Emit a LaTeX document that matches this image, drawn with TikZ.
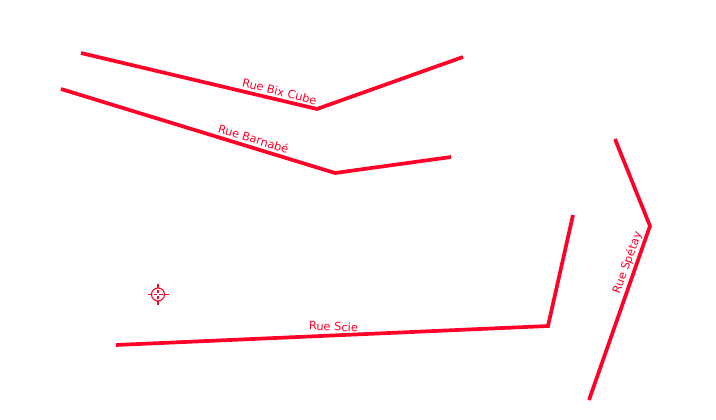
\documentclass[tikz,border=0pt]{standalone}
\usepackage{fontspec}
\setmainfont{DejaVu Sans}
\definecolor{roadred}{RGB}{255,0,40}
\tikzset{
  road/.style={draw=roadred,line width=3.7pt,line join=miter,line cap=butt},
  roadlabel/.style={text=roadred,font=\fontsize{11.4}{13}\selectfont,inner sep=0pt,anchor=center},
  targetline/.style={draw=roadred,line width=1.1pt}
}
\begin{document}
\begin{tikzpicture}[x=1pt,y=-1pt]
\useasboundingbox (0,0) rectangle (716,420);
\fill[white] (0,0) rectangle (716,420);
\draw[road] (81,53) -- (317,109) -- (463,57);
\draw[road] (61,89) -- (335,173) -- (451,157);
\draw[road] (116,345) -- (548,326) -- (573,215);
\draw[road] (615,139) -- (650,226) -- (589,400);
\node[roadlabel,rotate=-14] (bix) at (279.5,91.5) {Rue Bix Cube};
\node[roadlabel,rotate=-17] (barnabe) at (253.5,138.5) {Rue Barnabé};
\node[roadlabel,rotate=-2.5] (scie) at (333.5,326.5) {Rue Scie};
\node[roadlabel,rotate=70] (spetay) at (627.5,263) {Rue Spétay};
\coordinate (target) at (158,294.5);
\draw[targetline] (target) circle (6.5);
\draw[targetline]
  (target) ++(-10.5,0) -- ++(4,0)  (target) ++(6.5,0) -- ++(4,0)
  (target) ++(0,-10.5) -- ++(0,4)  (target) ++(0,6.5) -- ++(0,4)
  (target) ++(-4.5,0) -- ++(3.2,0)  (target) ++(1.3,0) -- ++(3.2,0)
  (target) ++(0,-4.5) -- ++(0,3.2)  (target) ++(0,1.3) -- ++(0,3.2);
\end{tikzpicture}
\end{document}
